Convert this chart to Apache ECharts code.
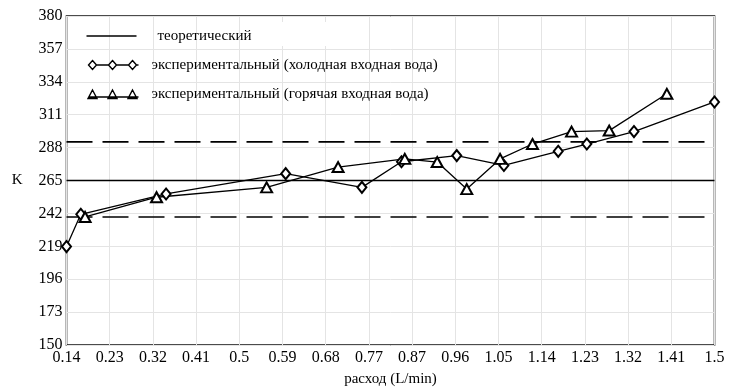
<!DOCTYPE html>
<html>
<head>
<meta charset="utf-8">
<script src="https://cdn.jsdelivr.net/npm/echarts@6/dist/echarts.min.js"></script>
<style>
html,body{margin:0;padding:0;background:#fff;}
#chart{width:732px;height:392px;}
</style>
</head>
<body>
<div id="chart"></div>
<script>
// ---- data ----
const xTickLabels = ['0.14','0.23','0.32','0.41','0.5','0.59','0.68','0.77','0.87','0.96','1.05','1.14','1.23','1.32','1.41','1.5'];
const yTickLabels = ['150','173','196','219','242','265','288','311','334','357','380'];
const flowMin = 0.14, flowMax = 1.5;
const kMin = 150, kMax = 380;

const theoreticalK = 265;
const toleranceLowK = 239.5;
const toleranceHighK = 292;

const coldFlow = [0.14, 0.170, 0.349, 0.600, 0.760, 0.843, 0.959, 1.058, 1.172, 1.232, 1.331, 1.500];
const coldK    = [218.8, 241.4, 255.6, 269.8, 260.2, 278.1, 282.4, 275.5, 285.4, 290.5, 299.2, 319.9];

const hotFlow = [0.179, 0.329, 0.560, 0.710, 0.850, 0.918, 0.980, 1.050, 1.118, 1.200, 1.279, 1.400];
const hotK    = [239.5, 253.3, 260.2, 274.4, 280.1, 277.9, 259.0, 280.1, 290.5, 299.2, 299.9, 325.6];

const nameTheo = 'теоретический';
const nameCold = 'экспериментальный (холодная входная вода)';
const nameHot  = 'экспериментальный (горячая входная вода)';

// ---- chart ----
const pairs = (xs, ys) => xs.map((x, i) => [x, ys[i]]);
const FONT = 'Liberation Serif';
const BOX0 = 'M0 0 L0 0 ', BOX1 = ' M60 10 L60 10';

const chart = echarts.init(document.getElementById('chart'), null, {renderer: 'canvas'});
const option = {
  animation: false,
  backgroundColor: '#fff',
  textStyle: {fontFamily: FONT, color: '#000'},
  grid: {left: 66.5, right: 17.5, top: 16, bottom: 42, show: true, borderColor: '#111', borderWidth: 1.6, backgroundColor: 'transparent'},
  xAxis: [
    {type: 'value', min: flowMin, max: flowMax, show: false},
    {type: 'value', min: 0, max: xTickLabels.length - 1, interval: 1, position: 'bottom',
     axisLine: {show: false}, axisTick: {show: false},
     splitLine: {show: true, lineStyle: {color: '#e4e4e4', width: 1}},
     axisLabel: {color: '#000', fontFamily: FONT, fontSize: 16, margin: 5, formatter: v => xTickLabels[v]},
     name: 'расход (L/min)', nameLocation: 'middle', nameGap: 27,
     nameTextStyle: {color: '#000', fontFamily: FONT, fontSize: 15}}
  ],
  yAxis: [
    {type: 'value', min: kMin, max: kMax, show: false},
    {type: 'value', min: 0, max: yTickLabels.length - 1, interval: 1, position: 'left',
     axisLine: {show: false}, axisTick: {show: false},
     splitLine: {show: true, lineStyle: {color: '#e4e4e4', width: 1}},
     axisLabel: {color: '#000', fontFamily: FONT, fontSize: 16, margin: 4, formatter: v => yTickLabels[v]},
     name: 'K', nameLocation: 'middle', nameGap: 44, nameRotate: 0,
     nameTextStyle: {color: '#000', fontFamily: FONT, fontSize: 15}}
  ],
  legend: {
    orient: 'vertical', left: 84, top: 27, padding: 0, itemWidth: 60, itemHeight: 10, itemGap: 11,
    selectedMode: false, symbolKeepAspect: false,
    textStyle: {fontFamily: FONT, fontSize: 15, color: '#000', lineHeight: 18},
    data: [
      {name: nameTheo, icon: 'path://' + BOX0 + 'M0 5 L50 5' + BOX1,
       itemStyle: {color: 'none', borderColor: '#000', borderWidth: 1.5},
       textStyle: {padding: [0, 0, 0, 6]}},
      {name: nameCold, icon: 'path://' + BOX0 + 'M6 0.5 L10 5 L6 9.5 L2 5 Z M10 5 L22 5 M26 0.5 L30 5 L26 9.5 L22 5 Z M30 5 L42 5 M46 0.5 L50 5 L46 9.5 L42 5 Z M50 5 L52 5' + BOX1,
       itemStyle: {color: '#fff', borderColor: '#000', borderWidth: 1.4}},
      {name: nameHot, icon: 'path://' + BOX0 + 'M2 8 L52 8 M6 1 L10.5 9.5 L1.5 9.5 Z M26 1 L30.5 9.5 L21.5 9.5 Z M46 1 L50.5 9.5 L41.5 9.5 Z' + BOX1,
       itemStyle: {color: '#fff', borderColor: '#000', borderWidth: 1.4}}
    ]
  },
  graphic: [
    {type: 'rect', left: 253, top: 22, shape: {width: 73, height: 24}, style: {fill: '#fff'}, z: 5, silent: true}
  ],
  series: [
    {name: nameTheo, type: 'line', xAxisIndex: 0, yAxisIndex: 0, symbol: 'none',
     data: [[flowMin, theoreticalK], [flowMax, theoreticalK]],
     lineStyle: {color: '#000', width: 1.5}, itemStyle: {color: '#000'}},
    {name: 'верхний предел', type: 'line', xAxisIndex: 0, yAxisIndex: 0, symbol: 'none',
     data: [[flowMin, toleranceHighK], [flowMax, toleranceHighK]],
     lineStyle: {color: '#000', width: 1.6, type: [26, 10]}},
    {name: 'нижний предел', type: 'line', xAxisIndex: 0, yAxisIndex: 0, symbol: 'none',
     data: [[flowMin, toleranceLowK], [flowMax, toleranceLowK]],
     lineStyle: {color: '#000', width: 1.6, type: [26, 10]}},
    {name: nameCold, type: 'line', xAxisIndex: 0, yAxisIndex: 0,
     symbol: 'emptyDiamond', symbolSize: [9, 11], showAllSymbol: true,
     data: pairs(coldFlow, coldK),
     lineStyle: {color: '#000', width: 1.3}, itemStyle: {color: '#000', borderWidth: 1.3}, z: 4},
    {name: nameHot, type: 'line', xAxisIndex: 0, yAxisIndex: 0,
     symbol: 'emptyTriangle', symbolSize: [11, 10], showAllSymbol: true,
     data: pairs(hotFlow, hotK),
     lineStyle: {color: '#000', width: 1.3}, itemStyle: {color: '#000', borderWidth: 1.3}, z: 4}
  ]
};
chart.setOption(option);
</script>
</body>
</html>
